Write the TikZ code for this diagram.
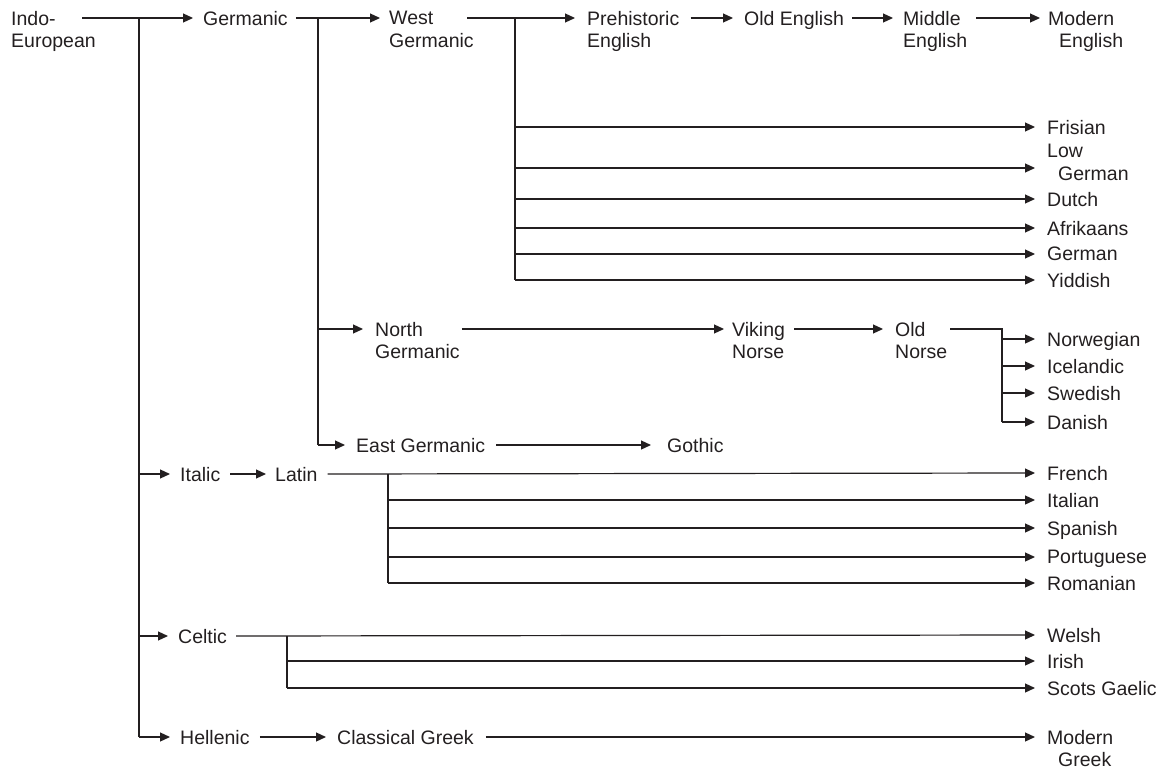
\documentclass[tikz,border=0pt]{standalone}
\usepackage{fontspec}
\setmainfont{Liberation Sans}
\usetikzlibrary{arrows.meta,calc}
\definecolor{ink}{RGB}{35,31,32}
\begin{document}
\begin{tikzpicture}[x=1pt,y=-1pt,
  lbl/.style={anchor=north west,inner sep=0pt,align=left,font=\fontsize{19.5}{22.5}\selectfont,text=ink},
  ln/.style={draw=ink,line width=1.2pt},
  arr/.style={ln,-{Triangle[length=10pt,width=9pt]}}]
\useasboundingbox (0,0) rectangle (1160,771);

% ---- nodes
\node[lbl] (ie) at (11,11) {Indo-\\European};
\node[lbl] (gm) at (203,11) {Germanic};
\node[lbl] (wg) at (389,11) {West\\Germanic};
\node[lbl] (pe) at (587,11) {Prehistoric\\English};
\node[lbl] (oe) at (744,11) {Old English};
\node[lbl] (me) at (903,11) {Middle\\English};
\node[lbl] (mo) at (1048,11) {Modern\\\hspace*{11pt}English};

\node[lbl] (fr) at (1047,120) {Frisian};
\node[lbl] (lg) at (1047,144) {Low\\\hspace*{11pt}German};
\node[lbl] (du) at (1047,192) {Dutch};
\node[lbl] (af) at (1047,221) {Afrikaans};
\node[lbl] (ge) at (1047,247) {German};
\node[lbl] (yi) at (1047,273) {Yiddish};

\node[lbl] (ng) at (375,322) {North\\Germanic};
\node[lbl] (vn) at (732,322) {Viking\\Norse};
\node[lbl] (on) at (895,322) {Old\\Norse};
\node[lbl] (nw) at (1047,332) {Norwegian};
\node[lbl] (ic) at (1047,359) {Icelandic};
\node[lbl] (sw) at (1047,386) {Swedish};
\node[lbl] (da) at (1047,415) {Danish};

\node[lbl] (eg) at (356,438) {East Germanic};
\node[lbl] (go) at (667,438) {Gothic};

\node[lbl] (it) at (180,467) {Italic};
\node[lbl] (la) at (275,467) {Latin};
\node[lbl] (fre) at (1047,466) {French};
\node[lbl] (ita) at (1047,493) {Italian};
\node[lbl] (spa) at (1047,521) {Spanish};
\node[lbl] (por) at (1047,550) {Portuguese};
\node[lbl] (rom) at (1047,576) {Romanian};

\node[lbl] (ce) at (178,629) {Celtic};
\node[lbl] (we) at (1047,628) {Welsh};
\node[lbl] (ir) at (1047,654) {Irish};
\node[lbl] (sg) at (1047,681) {Scots Gaelic};

\node[lbl] (he) at (180,730) {Hellenic};
\node[lbl] (cg) at (337,730) {Classical Greek};
\node[lbl] (mg) at (1047,730) {Modern\\\hspace*{11pt}Greek};

% ---- arrow ports (tip points in front of each label)
\foreach \n/\g in {gm/10,wg/9,pe/12,oe/11,me/10,mo/8,ng/12,vn/8,on/12,
                   eg/11,go/16,it/10,la/9,ce/10,he/10,cg/11,
                   fr/12,du/12,af/12,ge/12,yi/12,nw/12,ic/12,sw/12,da/12,
                   fre/12,ita/12,spa/12,por/12,rom/12,we/12,ir/12,sg/12,mg/12}
  \coordinate (\n-i) at ($(\n.north west)+(-\g,7)$);
\coordinate (lg-i) at ($(lg.north west)+(-12,24)$);

% ---- branch points
\coordinate (v1) at (139,18);   % Indo-European trunk
\coordinate (v2) at (318,18);   % Germanic trunk
\coordinate (v3) at (515,18);   % West Germanic trunk
\coordinate (v4) at (1002,329); % Old Norse fork
\coordinate (v5) at (388,474);  % Latin fork
\coordinate (v6) at (287,636);  % Celtic fork

% ---- top row
\draw[arr] ($(ie.north west)+(71,7)$) -- (gm-i);
\draw[arr] ($(gm.north east)+(8,7)$) -- (wg-i);
\draw[arr] ($(wg.north west)+(78,7)$) -- (pe-i);
\draw[arr] ($(pe.north east)+(11,7)$) -- (oe-i);
\draw[arr] ($(oe.north east)+(8,7)$) -- (me-i);
\draw[arr] ($(me.north east)+(9,7)$) -- (mo-i);

% ---- Indo-European trunk
\draw[ln] (v1) -- (v1 |- he-i);
\draw[arr] (v1 |- it-i) -- (it-i);
\draw[arr] (v1 |- ce-i) -- (ce-i);
\draw[arr] (v1 |- he-i) -- (he-i);

% ---- Germanic trunk
\draw[ln] (v2) -- (v2 |- eg-i);
\draw[arr] (v2 |- ng-i) -- (ng-i);
\draw[arr] (v2 |- eg-i) -- (eg-i);

% ---- West Germanic trunk
\draw[ln] (v3) -- (v3 |- yi-i);
\foreach \n in {fr,lg,du,af,ge,yi}
  \draw[arr] (v3 |- \n-i) -- (\n-i);

% ---- North Germanic
\draw[arr] ($(ng.north east)+(2,7)$) -- (vn-i);
\draw[arr] ($(vn.north east)+(9,7)$) -- (on-i);
\draw[ln] ($(on.north east)+(3,7)$) -- (v4) -- (v4 |- da-i);
\foreach \n in {nw,ic,sw,da}
  \draw[arr] (v4 |- \n-i) -- (\n-i);

% ---- East Germanic
\draw[arr] ($(eg.north east)+(11,7)$) -- (go-i);

% ---- Italic
\draw[arr] ($(it.north east)+(10,7)$) -- (la-i);
\draw[arr] ($(la.north east)+(10,7)$) -- (fre-i);
\draw[ln] (v5) -- (v5 |- rom-i);
\foreach \n in {ita,spa,por,rom}
  \draw[arr] (v5 |- \n-i) -- (\n-i);

% ---- Celtic
\draw[arr] ($(ce.north east)+(9,7)$) -- (we-i);
\draw[ln] (v6) -- (v6 |- sg-i);
\foreach \n in {ir,sg}
  \draw[arr] (v6 |- \n-i) -- (\n-i);

% ---- Hellenic
\draw[arr] ($(he.north east)+(10,7)$) -- (cg-i);
\draw[arr] ($(cg.north east)+(12,7)$) -- (mg-i);
\end{tikzpicture}
\end{document}
